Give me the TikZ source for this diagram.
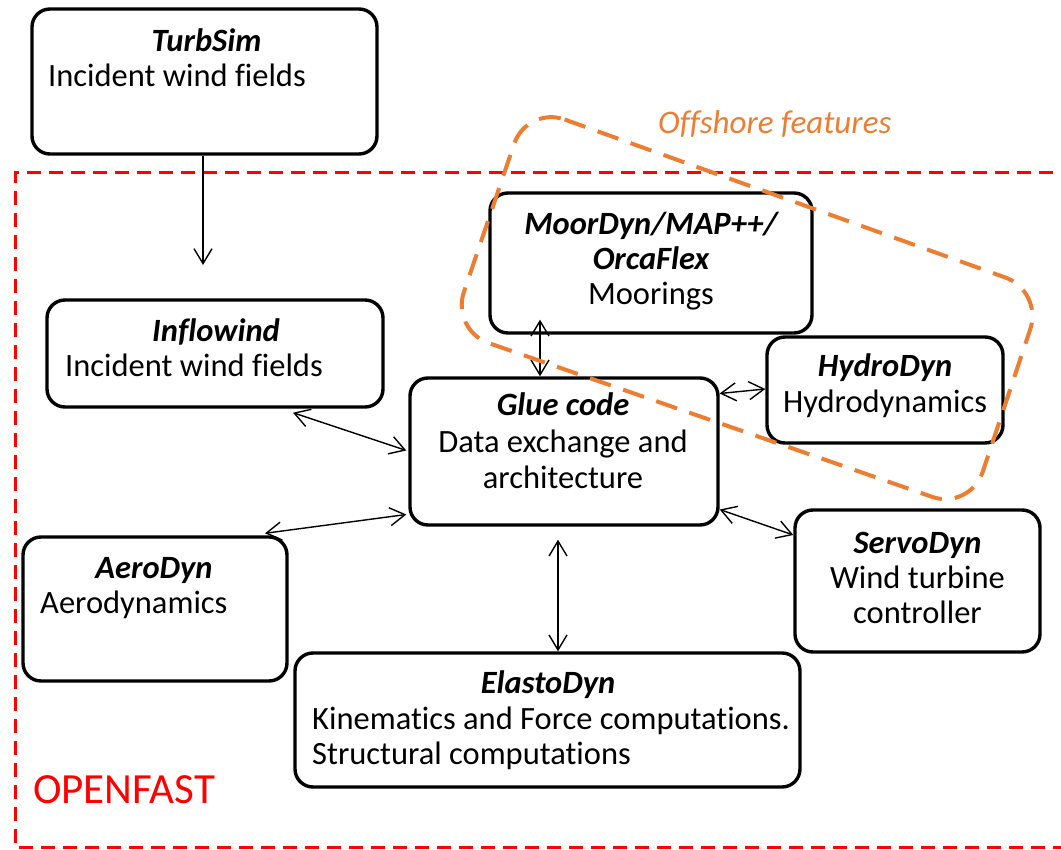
\documentclass[tikz,border=0pt]{standalone}
\usepackage{fontspec}
\setmainfont{Carlito}[Ligatures={NoCommon,NoContextual,NoRequired}, RawFeature=-calt]
\usetikzlibrary{arrows.meta}
\definecolor{openred}{RGB}{255,0,0}
\definecolor{offorange}{RGB}{237,125,49}

\begin{document}
\begin{tikzpicture}[x=1pt, y=-1pt, >={Straight Barb[length=15pt, width=18pt]},
  box/.style={draw, fill=white, line width=3.4pt, rounded corners=18pt, inner sep=0pt},
  lbl/.style={inner sep=0pt, anchor=base, font=\fontsize{32.5}{35}\selectfont},
  ttl/.style={lbl, font=\fontsize{32.5}{35}\selectfont\bfseries\itshape},
  link/.style={<->, line width=1.4pt}]
\useasboundingbox (0,0) rectangle (1061,850);

% ---- OPENFAST frame ----
\draw[openred, line width=3pt, dash pattern=on 14pt off 8pt]
  (1075,173) -- (15,173) -- (15,847) -- (1075,847);
\node[lbl, anchor=base west, openred, font=\fontsize{43}{47}\selectfont] (openfast) at (33,803) {OPENFAST};

% ---- modules ----
\node[box, minimum width=345pt, minimum height=145pt] (turbsim) at (204.5,81.5) {};
\node[ttl] (turbsim-t) at (206.5,52) {TurbSim};
\node[lbl, anchor=base west] (turbsim-b) at (48,87) {Incident wind fields};

\node[box, minimum width=336pt, minimum height=107pt] (inflow) at (215,353.5) {};
\node[ttl] (inflow-t) at (216,342) {Inflowind};
\node[lbl, anchor=base west] (inflow-b) at (65,377) {Incident wind fields};

\node[box, minimum width=308pt, minimum height=147pt] (glue) at (564,451.5) {};
\node[ttl] (glue-t) at (563,416) {Glue code};
\node[lbl] (glue-1) at (563,453) {Data exchange and};
\node[lbl] (glue-2) at (563,488) {architecture};

\node[box, minimum width=236pt, minimum height=106pt] (hydro) at (885,390) {};
\node[ttl] (hydro-t) at (885,377) {HydroDyn};
\node[lbl] (hydro-b) at (885,413) {Hydrodynamics};

\node[box, minimum width=322pt, minimum height=140pt] (moor) at (651,263) {};
\node[ttl] (moor-t1) at (651,235) {MoorDyn/MAP++/};
\node[ttl] (moor-t2) at (651,270) {OrcaFlex};
\node[lbl] (moor-b) at (651,305) {Moorings};

\node[box, minimum width=245pt, minimum height=142pt] (servo) at (917.5,581) {};
\node[ttl] (servo-t) at (917.5,553) {ServoDyn};
\node[lbl] (servo-1) at (917.5,588) {Wind turbine};
\node[lbl] (servo-2) at (917.5,623) {controller};

\node[box, minimum width=264pt, minimum height=144pt] (aero) at (155,609) {};
\node[ttl] (aero-t) at (154,578) {AeroDyn};
\node[lbl, anchor=base west] (aero-b) at (40,613) {Aerodynamics};

\node[box, minimum width=505pt, minimum height=134pt] (elasto) at (547.5,720) {};
\node[ttl] (elasto-t) at (548,693) {ElastoDyn};
\node[lbl, anchor=base west] (elasto-1) at (312,729) {Kinematics and Force computations.};
\node[lbl, anchor=base west] (elasto-2) at (312,764) {Structural computations};

% ---- connectors ----
\coordinate (wind-in) at (203,265);
\draw[->, line width=1.4pt] (turbsim.south -| wind-in) -- (wind-in);
\draw[link] ([xshift=78pt,yshift=-4pt]inflow.south) -- ([xshift=-2pt,yshift=1pt]glue.west);
\draw[link] ([xshift=110pt,yshift=2pt]aero.north) -- ([xshift=-2pt,yshift=-63pt]glue.west);
\draw[link] ([xshift=-24pt]glue.north) -- ([xshift=-111pt,yshift=15pt]moor.south);
\draw[link] ([yshift=58pt]glue.east) -- ([yshift=1pt]hydro.west);
\draw[link] ([yshift=-58pt]glue.east) -- ([yshift=46pt]servo.west);
\draw[link] ([xshift=-6pt,yshift=-13pt]glue.south) -- ([xshift=10.5pt]elasto.north);

% ---- offshore group ----
\draw[offorange, line width=4pt, dash pattern=on 22pt off 13pt, rounded corners=40pt]
  (527,106) -- (1043,291) -- (970,510) -- (451,330) -- cycle;
\node[lbl, anchor=base west, offorange, font=\fontsize{33}{37}\selectfont\itshape] (offshore) at (658,134) {Offshore features};
\end{tikzpicture}
\end{document}
